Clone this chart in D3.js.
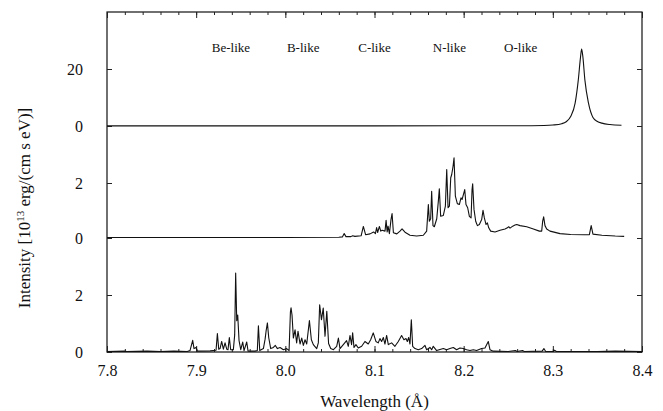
<!DOCTYPE html>
<html>
<head>
<meta charset="utf-8">
<script src="https://cdn.jsdelivr.net/npm/d3@7"></script>
<style>
  body { margin: 0; background: #fff; }
</style>
</head>
<body>
<svg width="663" height="411"></svg>
<script>
// x axis ticks
let xMajor = [7.8, 7.9, 8.0, 8.1, 8.2, 8.3, 8.4]
let xMinor = d3.range(7.8, 8.401, 0.02)

// labels of the ion stages
let ionLabels = [
    {text: "Be-like", w: 7.939},
    {text: "B-like", w: 8.020},
    {text: "C-like", w: 8.100},
    {text: "N-like", w: 8.184},
    {text: "O-like", w: 8.264}
]

// top panel: [wavelength, intensity]
let topSpectrum = [
    [7.80,0.05],[8.00,0.05],[8.20,0.07],[8.26,0.1],[8.29,0.2],[8.30,0.35],[8.31,0.8],
    [8.315,1.5],[8.32,3.3],[8.325,8],[8.3285,16],[8.331,24],[8.3323,27],[8.3336,24.5],
    [8.336,16],[8.340,8],[8.345,3],[8.35,1.6],[8.355,1.0],[8.364,0.5],[8.377,0.25]
]

// middle panel
let midSpectrum = [
    [7.80,0.02],[8.00,0.02],[8.06,0.03],[8.064,0.04],[8.066,0.16],[8.068,0.05],[8.0735,0.05],
    [8.0755,0.08],[8.078,0.06],[8.085,0.08],[8.0875,0.42],[8.090,0.12],[8.095,0.15],[8.099,0.22],
    [8.101,0.16],[8.1024,0.38],[8.1035,0.2],[8.1055,0.42],[8.107,0.25],[8.1085,0.28],[8.1118,0.25],
    [8.1130,0.64],[8.1142,0.22],[8.1152,0.43],[8.1167,0.16],[8.1185,0.67],[8.1197,0.89],[8.1212,0.19],
    [8.125,0.15],[8.1286,0.25],[8.1309,0.33],[8.1342,0.21],[8.1398,0.10],[8.1473,0.07],[8.1548,0.10],
    [8.1585,0.25],[8.1604,1.22],[8.1615,0.61],[8.1630,0.70],[8.1641,1.70],[8.1656,0.45],[8.1671,0.41],
    [8.1698,0.70],[8.1716,1.34],[8.1727,1.79],[8.1742,0.79],[8.1772,0.82],[8.1795,1.16],[8.1810,2.49],
    [8.1825,1.10],[8.1840,1.16],[8.1855,2.19],[8.1866,2.31],[8.1881,2.61],[8.1892,2.92],[8.1907,1.52],
    [8.1929,1.25],[8.1952,1.22],[8.1970,1.46],[8.1982,1.40],[8.1997,1.58],[8.2012,1.76],[8.2026,1.22],
    [8.2045,1.10],[8.2064,0.79],[8.2083,0.73],[8.2094,1.76],[8.2101,1.97],[8.2116,1.04],[8.2135,0.61],
    [8.2154,0.45],[8.2176,0.49],[8.2202,0.67],[8.2217,1.01],[8.2232,0.73],[8.2251,0.49],[8.2266,0.55],
    [8.2281,0.37],[8.2303,0.25],[8.2352,0.22],[8.2408,0.28],[8.2464,0.33],[8.2490,0.37],[8.2505,0.41],
    [8.2520,0.36],[8.2550,0.43],[8.2576,0.47],[8.2595,0.49],[8.2632,0.45],[8.2707,0.41],[8.2782,0.33],
    [8.2849,0.25],[8.2875,0.25],[8.2886,0.61],[8.2897,0.77],[8.2912,0.45],[8.2931,0.33],[8.2968,0.25],
    [8.3081,0.16],[8.32,0.13],[8.335,0.12],[8.341,0.12],[8.343,0.45],[8.345,0.14],[8.355,0.1],
    [8.37,0.07],[8.38,0.06]
]

// bottom panel
let lowSpectrum = [
    [7.80,0.02],[7.82,0.03],[7.822,0.02],[7.845,0.03],[7.86,0.02],[7.875,0.03],[7.89,0.02],
    [7.8931,0.05],[7.8961,0.41],[7.8976,0.12],[7.8999,0.16],[7.9014,0.03],[7.9156,0.04],[7.9223,0.06],
    [7.9238,0.65],[7.9253,0.10],[7.9268,0.12],[7.9286,0.37],[7.9305,0.10],[7.9324,0.32],[7.9343,0.10],
    [7.9357,0.08],[7.9372,0.51],[7.9387,0.08],[7.9417,0.08],[7.9432,0.6],[7.9443,2.77],[7.9455,1.1],
    [7.9466,1.3],[7.9481,0.4],[7.9500,0.08],[7.9522,0.35],[7.9537,0.05],[7.9567,0.35],[7.9582,0.03],
    [7.9660,0.03],[7.9686,0.05],[7.9698,0.92],[7.9713,0.05],[7.9754,0.12],[7.9773,0.45],[7.9784,0.73],
    [7.9799,1.02],[7.9814,0.5],[7.9836,0.12],[7.9866,0.16],[7.9888,0.23],[7.9911,0.12],[7.9941,0.16],
    [7.9978,0.08],[8.0015,0.12],[8.0042,0.05],[8.0057,1.4],[8.0064,1.55],[8.0075,1.3],[8.0090,0.49],
    [8.0109,0.78],[8.0127,0.32],[8.0142,0.73],[8.0165,0.28],[8.0184,0.49],[8.0202,0.23],[8.0221,0.43],
    [8.0240,0.28],[8.0270,1.10],[8.0292,0.43],[8.0314,0.26],[8.0352,0.12],[8.0370,0.32],[8.0385,1.66],
    [8.0405,1.13],[8.0425,1.54],[8.0445,0.55],[8.0465,1.43],[8.0485,0.3],[8.0509,0.12],[8.0539,0.08],
    [8.0576,0.2],[8.0595,0.49],[8.0613,0.12],[8.0650,0.26],[8.0687,0.40],[8.0706,0.2],[8.0725,0.58],
    [8.0743,0.26],[8.0755,0.67],[8.0770,0.16],[8.0792,0.26],[8.0818,0.14],[8.0856,0.2],[8.0893,0.37],
    [8.0930,0.28],[8.0957,0.43],[8.0986,0.67],[8.1016,0.37],[8.1042,0.32],[8.1061,0.47],[8.1080,0.37],
    [8.1099,0.51],[8.1117,0.28],[8.1136,0.58],[8.1155,0.26],[8.1192,0.32],[8.1229,0.2],[8.1267,0.37],
    [8.1304,0.58],[8.1330,0.43],[8.1353,0.47],[8.1368,0.37],[8.1383,0.51],[8.1398,0.28],[8.1413,1.13],
    [8.1428,0.2],[8.1454,0.12],[8.1491,0.08],[8.1529,0.12],[8.1566,0.23],[8.1585,0.08],[8.1622,0.16],
    [8.1641,0.08],[8.1659,0.2],[8.1697,0.05],[8.1772,0.12],[8.1809,0.08],[8.1846,0.12],[8.1884,0.16],
    [8.1921,0.08],[8.1958,0.14],[8.1996,0.12],[8.2033,0.08],[8.2071,0.05],[8.2108,0.08],[8.2145,0.05],
    [8.2201,0.12],[8.2239,0.14],[8.2276,0.37],[8.2295,0.08],[8.2332,0.03],[8.25,0.02],[8.258,0.05],
    [8.26,0.02],[8.266,0.05],[8.268,0.02],[8.288,0.03],[8.29,0.12],[8.292,0.02],[8.30,0.02],
    [8.302,0.06],[8.304,0.02],[8.35,0.02],[8.37,0.03],[8.40,0.02]
]

let svg = d3.select("svg")
let serif = "'Liberation Serif', 'DejaVu Serif', serif"

// frame
let frameLeft = 107, frameRight = 642, frameTop = 12, frameBottom = 352

let x = d3.scaleLinear().domain([7.8, 8.4]).range([frameLeft, frameRight])

// each panel gets its own y scale inside the shared frame
let panels = [
    {data: topSpectrum, y: d3.scaleLinear().domain([0, 20]).range([126, 69]), ticks: [0, 20], curve: d3.curveMonotoneX},
    {data: midSpectrum, y: d3.scaleLinear().domain([0, 2]).range([238, 183]), ticks: [0, 2], curve: d3.curveLinear},
    {data: lowSpectrum, y: d3.scaleLinear().domain([0, 2]).range([352, 295]), ticks: [0, 2], curve: d3.curveLinear}
]

svg.append("rect")
    .attr("x", frameLeft).attr("y", frameTop)
    .attr("width", frameRight - frameLeft).attr("height", frameBottom - frameTop)
    .attr("fill", "none").attr("stroke", "#111").attr("stroke-width", 1.2)

function cleanAxis(g) {
    g.attr("font-family", serif)
    g.select(".domain").remove()
    g.selectAll("line").attr("stroke", "#222")
}

// bottom x axis (ticks pointing inward)
svg.append("g")
    .attr("transform", `translate(0,${frameBottom})`)
    .call(d3.axisBottom(x).tickValues(xMinor).tickSize(-3).tickFormat(""))
    .call(cleanAxis)
svg.append("g")
    .attr("transform", `translate(0,${frameBottom})`)
    .call(d3.axisBottom(x).tickValues(xMajor).tickSize(-6).tickPadding(13).tickFormat(d3.format(".1f")))
    .call(cleanAxis)
    .selectAll("text").attr("font-size", 16).attr("fill", "#333")

// top x axis, no labels
svg.append("g")
    .attr("transform", `translate(0,${frameTop})`)
    .call(d3.axisTop(x).tickValues(xMinor).tickSize(-3).tickFormat(""))
    .call(cleanAxis)
svg.append("g")
    .attr("transform", `translate(0,${frameTop})`)
    .call(d3.axisTop(x).tickValues(xMajor).tickSize(-6).tickFormat(""))
    .call(cleanAxis)

let line = d3.line().x(d => x(d[0]))

panels.forEach(p => {
    svg.append("g")
        .attr("transform", `translate(${frameLeft},0)`)
        .call(d3.axisLeft(p.y).tickValues(p.ticks).tickSize(-5).tickPadding(24).tickFormat(d3.format("d")))
        .call(cleanAxis)
        .selectAll("text").attr("font-size", 16).attr("fill", "#333")

    svg.append("g")
        .attr("transform", `translate(${frameRight},0)`)
        .call(d3.axisRight(p.y).tickValues(p.ticks).tickSize(-5).tickFormat(""))
        .call(cleanAxis)

    svg.append("path")
        .datum(p.data)
        .attr("fill", "none")
        .attr("stroke", "#111")
        .attr("stroke-width", 1.1)
        .attr("stroke-linejoin", "round")
        .attr("d", line.y(d => p.y(d[1])).curve(p.curve))
})

// ion stage labels
svg.append("g").selectAll("text")
    .data(ionLabels)
    .enter().append("text")
    .attr("x", d => x(d.w))
    .attr("y", 52)
    .attr("text-anchor", "middle")
    .attr("font-size", 13)
    .text(d => d.text)

// axis titles
svg.append("text")
    .attr("x", (frameLeft + frameRight) / 2)
    .attr("y", 407)
    .attr("text-anchor", "middle")
    .attr("font-size", 17)
    .text("Wavelength (Å)")

let ytitle = svg.append("text")
    .attr("transform", "translate(30,208) rotate(-90)")
    .attr("text-anchor", "middle")
    .attr("font-size", 17)
ytitle.append("tspan").text("Intensity [10")
ytitle.append("tspan").attr("dy", -6).attr("font-size", 11).text("13")
ytitle.append("tspan").attr("dy", 6).text(" erg/(cm s eV)]")

svg.selectAll("text").attr("font-family", serif).attr("fill", "#111")
</script>
</body>
</html>
